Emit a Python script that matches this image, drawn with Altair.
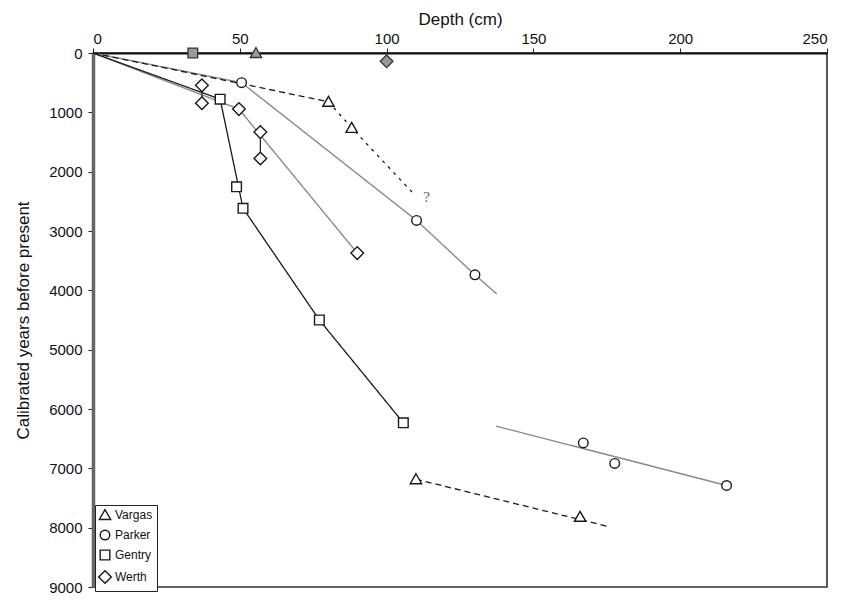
import altair as alt
import pandas as pd

# ---------------- data ----------------
sites = ["Vargas", "Parker", "Gentry", "Werth"]
shapes = ["M0,-1.15L1.2,0.95L-1.2,0.95Z", "circle", "square", "M-1.3,0L0,-1.3L1.3,0L0,1.3Z"]
sizes = [90, 95, 100, 95]

# markers (open symbols)
vargas_x = [80.2, 88.1, 110.0, 165.9]
vargas_y = [822, 1261, 7183, 7817]
parker_x = [50.6, 110.2, 130.1, 167.0, 177.7, 215.8]
parker_y = [500, 2822, 3739, 6572, 6917, 7289]
gentry_x = [43.3, 48.9, 51.1, 77.1, 105.7]
gentry_y = [778, 2255, 2617, 4500, 6233]
werth_x = [37.1, 37.1, 49.7, 57.0, 57.0, 90.0]
werth_y = [545, 845, 945, 1333, 1778, 3372]

# grey-filled symbols near the surface
grey_site = ["Gentry", "Vargas", "Werth"]
grey_x = [34.0, 55.5, 100.0]
grey_y = [0, 0, 140]

# line segments
gentry_line_x = [0, 43.3, 51.1, 77.1, 105.7]
gentry_line_y = [0, 778, 2617, 4500, 6233]
parker_line1_x = [0, 50.6, 110.2, 130.1, 137.5]
parker_line1_y = [0, 500, 2822, 3739, 4060]
parker_line2_x = [137.3, 215.8]
parker_line2_y = [6288, 7289]
werth_line_x = [0, 49.7, 90.0]
werth_line_y = [0, 945, 3372]
vargas_dash1_x = [0, 80.2]
vargas_dash1_y = [0, 822]
vargas_dot_x = [80.2, 88.1, 109.0]
vargas_dot_y = [822, 1261, 2361]
vargas_dash2_x = [110.0, 176.1]
vargas_dash2_y = [7183, 7988]

# vertical range bars (Werth)
bar_x = [37.1, 57.0]
bar_y1 = [545, 1333]
bar_y2 = [845, 1778]

q_x = [112.5]
q_y = [2420]
q_text = ["?"]

# ---------------- build tables ----------------
pts = pd.DataFrame(
    [(s, x, y) for s, xs, ys in [("Vargas", vargas_x, vargas_y), ("Parker", parker_x, parker_y),
                                  ("Gentry", gentry_x, gentry_y), ("Werth", werth_x, werth_y)]
     for x, y in zip(xs, ys)], columns=["site", "depth", "age"])
grey = pd.DataFrame({"site": grey_site, "depth": grey_x, "age": grey_y})


def seg(name, xs, ys):
    return pd.DataFrame({"seg": name, "depth": xs, "age": ys, "ord": range(len(xs))})


black_solid = seg("g", gentry_line_x, gentry_line_y)
grey_solid = pd.concat([seg("p1", parker_line1_x, parker_line1_y),
                        seg("p2", parker_line2_x, parker_line2_y),
                        seg("w", werth_line_x, werth_line_y)])
dashed = pd.concat([seg("v1", vargas_dash1_x, vargas_dash1_y),
                    seg("v2", vargas_dash2_x, vargas_dash2_y)])
dotted = seg("v3", vargas_dot_x, vargas_dot_y)
bars = pd.DataFrame({"depth": bar_x, "age": bar_y1, "age2": bar_y2})
qdf = pd.DataFrame({"depth": q_x, "age": q_y, "t": q_text})

# ---------------- encodings ----------------
X = alt.X("depth:Q", scale=alt.Scale(domain=[0, 250], nice=False, zero=True),
          axis=alt.Axis(orient="top", title="Depth (cm)", values=[0, 50, 100, 150, 200, 250],
                        grid=False))
Y = alt.Y("age:Q", scale=alt.Scale(domain=[0, 9000], reverse=True, nice=False),
          axis=alt.Axis(title="Calibrated years before present",
                        values=list(range(0, 9001, 1000)), grid=False, format="d"))


def lines(df, color, dash, width):
    return alt.Chart(df).mark_line(color=color, strokeDash=dash, strokeWidth=width).encode(
        x=X, y=Y, detail="seg:N", order="ord:Q")


l_black = lines(black_solid, "#1a1a1a", [1, 0], 1.3)
l_grey = lines(grey_solid, "#8a8a8a", [1, 0], 1.4)
l_dash = lines(dashed, "#1a1a1a", [6, 4], 1.3)
l_dot = lines(dotted, "#1a1a1a", [3, 5], 1.3)

rules = alt.Chart(bars).mark_rule(color="#1a1a1a", strokeWidth=1.2).encode(
    x=X, y=Y, y2="age2:Q")

shape_scale = alt.Scale(domain=sites, range=shapes)
size_scale = alt.Scale(domain=sites, range=sizes)
fill_scale = alt.Scale(domain=sites, range=["white"] * 4)
stroke_scale = alt.Scale(domain=sites, range=["#1a1a1a"] * 4)

legend = alt.Legend(title=None, orient="none", legendX=2, legendY=452,
                    labelFontSize=12, rowPadding=4, symbolOpacity=1,
                    symbolStrokeWidth=1.4, strokeColor="#222222",
                    fillColor="white", padding=4, labelFont="Liberation Sans",
                    labelColor="#111111")

points = alt.Chart(pts).mark_point(filled=True, strokeWidth=1.4, opacity=1).encode(
    x=X, y=Y,
    shape=alt.Shape("site:O", scale=shape_scale, sort=sites, legend=legend),
    size=alt.Size("site:O", scale=size_scale, sort=sites, legend=legend),
    fill=alt.Fill("site:O", scale=fill_scale, sort=sites, legend=legend),
    stroke=alt.Stroke("site:O", scale=stroke_scale, sort=sites, legend=legend),
)

greypts = alt.Chart(grey).mark_point(filled=True, fill="#9a9a9a", stroke="#333333",
                                     strokeWidth=1.3, opacity=1).encode(
    x=X, y=Y,
    shape=alt.Shape("site:O", scale=shape_scale, sort=sites, legend=None),
    size=alt.Size("site:O", scale=size_scale, sort=sites, legend=None),
)

qmark = alt.Chart(qdf).mark_text(font="Liberation Serif", fontSize=15, color="#666666",
                                 align="left", baseline="middle").encode(x=X, y=Y, text="t:N")

chart = alt.layer(l_grey, l_black, l_dash, l_dot, rules, points, greypts, qmark).properties(
    width=734, height=534,
    autosize=alt.AutoSizeParams(type="none"),
    padding={"left": 85, "top": 45, "right": 12, "bottom": 12},
).configure_view(
    stroke="#333333", strokeWidth=1.6
).configure_axis(
    labelFont="Liberation Sans", titleFont="Liberation Sans",
    labelFontSize=15, titleFontSize=17, titleFontWeight="normal",
    labelColor="#111111", titleColor="#111111", tickColor="#222222", tickSize=5,
).configure_axisX(
    domainColor="#111111", domainWidth=2.2, labelPadding=2, titlePadding=3,
).configure_axisY(
    domainColor="#666666", domainWidth=3.5, labelPadding=6, titlePadding=16,
)

chart.save("out.html", embed_options={"renderer": "svg", "actions": False})
